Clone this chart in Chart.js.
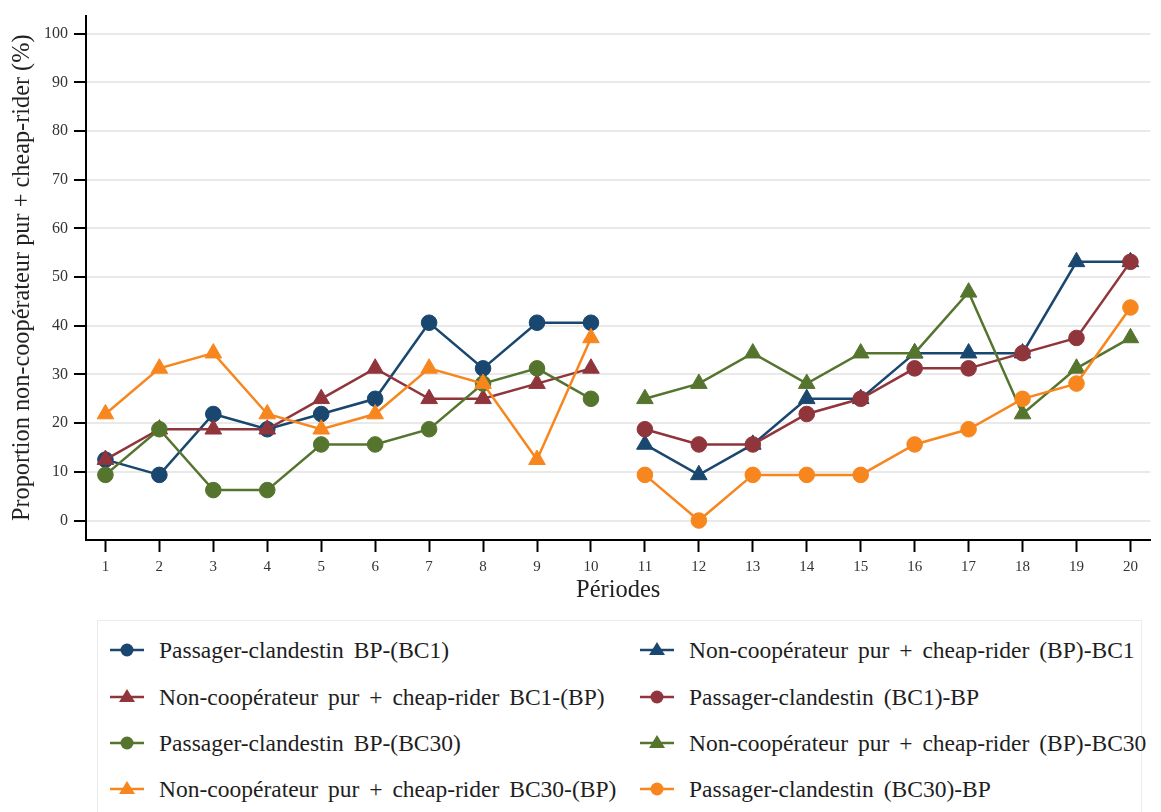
<!DOCTYPE html>
<html>
<head>
<meta charset="utf-8">
<script src="https://cdn.jsdelivr.net/npm/chart.js@4.4.1/dist/chart.umd.min.js"></script>
<style>
body { margin: 0; background: #fff; }
#wrap { position: relative; width: 1161px; height: 812px; overflow: hidden; }
#chart { position: absolute; left: 0; top: 0; }
#legend { position: absolute; left: 97px; top: 620px; width: 1043px; height: 240px; border: 1px solid #ececec; }
.item { position: absolute; height: 30px; display: flex; align-items: center; white-space: nowrap;
        font-family: "Liberation Serif", "Tinos", "Times New Roman", "DejaVu Serif", serif;
        font-size: 23.5px; word-spacing: 4px; color: #1e1e1e; }
.item svg { margin-right: 13px; }
</style>
</head>
<body>
<div id="wrap">
  <canvas id="chart" width="1161" height="610"></canvas>
  <div id="legend"></div>
</div>
<script>
// periodes
var periodsA = [1, 2, 3, 4, 5, 6, 7, 8, 9, 10];
var periodsB = [11, 12, 13, 14, 15, 16, 17, 18, 19, 20];
var xTicks = [1, 2, 3, 4, 5, 6, 7, 8, 9, 10, 11, 12, 13, 14, 15, 16, 17, 18, 19, 20];
var yTicks = [0, 10, 20, 30, 40, 50, 60, 70, 80, 90, 100];

// periodes 1-10
var pcBP_BC1 = [12.5, 9.375, 21.875, 18.75, 21.875, 25, 40.625, 31.25, 40.625, 40.625];
var ncBC1_BP = [12.5, 18.75, 18.75, 18.75, 25, 31.25, 25, 25, 28.125, 31.25];
var pcBP_BC30 = [9.375, 18.75, 6.25, 6.25, 15.625, 15.625, 18.75, 28.125, 31.25, 25];
var ncBC30_BP = [21.875, 31.25, 34.375, 21.875, 18.75, 21.875, 31.25, 28.125, 12.5, 37.5];
// periodes 11-20
var ncBP_BC1 = [15.625, 9.375, 15.625, 25, 25, 34.375, 34.375, 34.375, 53.125, 53.125];
var pcBC1_BP = [18.75, 15.625, 15.625, 21.875, 25, 31.25, 31.25, 34.375, 37.5, 53.125];
var ncBP_BC30 = [25, 28.125, 34.375, 28.125, 34.375, 34.375, 46.875, 21.875, 31.25, 37.5];
var pcBC30_BP = [9.375, 0, 9.375, 9.375, 9.375, 15.625, 18.75, 25, 28.125, 43.75];

var navy = '#1a476f', maroon = '#90353b', green = '#55752f', orange = '#f7861f';

// same order as the legend (row by row)
var series = [
    { label: 'Passager-clandestin BP-(BC1)', x: periodsA, y: pcBP_BC1, color: navy, shape: 'circle' },
    { label: 'Non-coopérateur pur + cheap-rider (BP)-BC1', x: periodsB, y: ncBP_BC1, color: navy, shape: 'triangle' },
    { label: 'Non-coopérateur pur + cheap-rider BC1-(BP)', x: periodsA, y: ncBC1_BP, color: maroon, shape: 'triangle' },
    { label: 'Passager-clandestin (BC1)-BP', x: periodsB, y: pcBC1_BP, color: maroon, shape: 'circle' },
    { label: 'Passager-clandestin BP-(BC30)', x: periodsA, y: pcBP_BC30, color: green, shape: 'circle' },
    { label: 'Non-coopérateur pur + cheap-rider (BP)-BC30', x: periodsB, y: ncBP_BC30, color: green, shape: 'triangle' },
    { label: 'Non-coopérateur pur + cheap-rider BC30-(BP)', x: periodsA, y: ncBC30_BP, color: orange, shape: 'triangle' },
    { label: 'Passager-clandestin (BC30)-BP', x: periodsB, y: pcBC30_BP, color: orange, shape: 'circle' }
];

var datasets = series.map(function (s, i) {
    return {
        label: s.label,
        data: s.y.map(function (v, j) { return { x: s.x[j], y: v }; }),
        borderColor: s.color,
        backgroundColor: s.color,
        borderWidth: 2.5,
        pointStyle: s.shape,
        pointRadius: s.shape == 'circle' ? 7.8 : 9.6,
        pointBorderWidth: 1,
        pointBorderColor: s.color,
        pointBackgroundColor: s.color,
        tension: 0,
        order: series.length - i
    };
});

var serif = '"Liberation Serif", "Times New Roman", serif';

new Chart(document.getElementById('chart').getContext('2d'), {
    type: 'line',
    data: { datasets: datasets },
    options: {
        responsive: false,
        animation: false,
        devicePixelRatio: 1,
        layout: { padding: { left: 0, top: 11, right: 8, bottom: 0 } },
        plugins: { legend: { display: false }, tooltip: { enabled: false } },
        scales: {
            x: {
                type: 'linear',
                min: 0.64,
                max: 20.37,
                afterBuildTicks: function (ax) { ax.ticks = xTicks.map(function (v) { return { value: v }; }); },
                afterFit: function (ax) { ax.height = 70; },
                grid: { drawOnChartArea: false, tickLength: 12, tickColor: '#000', tickWidth: 2 },
                border: { color: '#000', width: 2 },
                ticks: { color: '#333', padding: 6, maxRotation: 0, autoSkip: false, font: { family: serif, size: 15 } },
                title: { display: true, text: 'Périodes', color: '#222', padding: { top: 0, bottom: 5 }, font: { family: serif, size: 24.5 } }
            },
            y: {
                min: -4,
                max: 103.7,
                afterBuildTicks: function (ax) { ax.ticks = yTicks.map(function (v) { return { value: v }; }); },
                afterFit: function (ax) { ax.width = 86; },
                grid: { color: '#e9e9e9', lineWidth: 2, tickLength: 12, tickColor: '#000', tickWidth: 2 },
                border: { color: '#000', width: 2 },
                ticks: { color: '#333', padding: 6, font: { family: serif, size: 16 } },
                title: { display: true, text: 'Proportion non-coopérateur pur + cheap-rider (%)', color: '#222', padding: { top: 8, bottom: 0 }, font: { family: serif, size: 24.3 } }
            }
        }
    }
});

// legend in two columns
var legend = document.getElementById('legend');
var colX = [12, 542];
var rowY = [29, 76, 122, 168];
series.forEach(function (s, i) {
    var mark = s.shape == 'circle'
        ? '<circle cx="17" cy="10" r="6.5" fill="' + s.color + '"/>'
        : '<polygon points="17,2 25,15 9,15" fill="' + s.color + '"/>';
    var svg = '<svg width="36" height="20"><line x1="0" y1="10" x2="34" y2="10" stroke="' + s.color + '" stroke-width="2.5"/>' + mark + '</svg>';
    var div = document.createElement('div');
    div.className = 'item';
    div.style.left = colX[i % 2] + 'px';
    div.style.top = (rowY[Math.floor(i / 2)] - 15) + 'px';
    div.innerHTML = svg + '<span>' + s.label + '</span>';
    legend.appendChild(div);
});
</script>
</body>
</html>
